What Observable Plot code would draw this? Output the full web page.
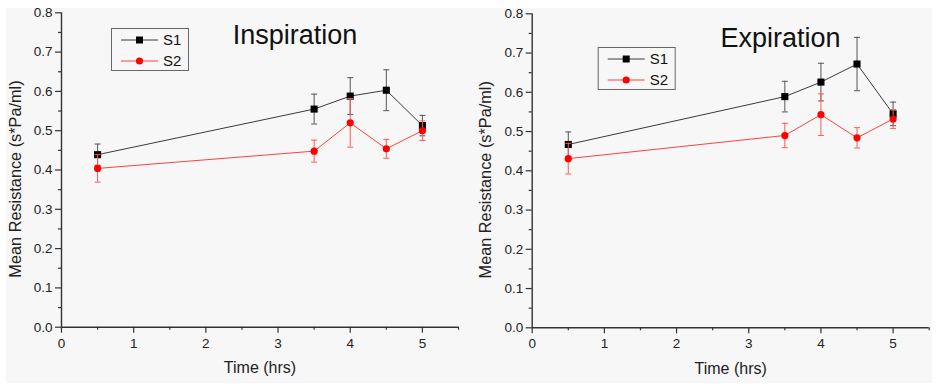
<!DOCTYPE html>
<html>
<head>
<meta charset="utf-8">
<script src="https://cdn.jsdelivr.net/npm/d3@7"></script>
<script src="https://cdn.jsdelivr.net/npm/@observablehq/plot@0.6"></script>
<style>
  html, body { margin: 0; padding: 0; background: #ffffff; }
  #wrap { position: absolute; left: 6px; top: 8px; width: 926px; height: 375px; background: #f7f7f7; overflow: hidden; }
  #wrap svg.plot { position: absolute; top: 0; }
  #overlay { position: absolute; left: 0; top: 0; }
</style>
</head>
<body>
<div id="wrap"></div>
<script>
// ---- data ----
const times = [0.5, 3.5, 4, 4.5, 5];
const seriesNames = ["S1", "S2"];
const panelTitles = ["Inspiration", "Expiration"];
const xLabel = "Time (hrs)";
const yLabel = "Mean Resistance (s*Pa/ml)";

const inspS1    = [0.439, 0.555, 0.588, 0.603, 0.513];
const inspS1Err = [0.027, 0.038, 0.047, 0.052, 0.026];
const inspS2    = [0.404, 0.448, 0.520, 0.454, 0.500];
const inspS2Err = [0.035, 0.028, 0.062, 0.024, 0.025];

const expS1     = [0.467, 0.589, 0.626, 0.672, 0.545];
const expS1Err  = [0.032, 0.039, 0.048, 0.068, 0.030];
const expS2     = [0.431, 0.490, 0.543, 0.484, 0.532];
const expS2Err  = [0.039, 0.031, 0.053, 0.026, 0.024];

const xMajor = [0, 1, 2, 3, 4, 5];
const xMinor = [0.5, 1.5, 2.5, 3.5, 4.5, 5.5];
const yMajor = [0, 0.1, 0.2, 0.3, 0.4, 0.5, 0.6, 0.7, 0.8];
const yMinor = [0.05, 0.15, 0.25, 0.35, 0.45, 0.55, 0.65, 0.75];

const FONT = "'Liberation Sans', Arial, Helvetica, sans-serif";
const AX = "#333";
const S1C = "#000000", S1L = "#3a3a3a", S1E = "#555555";
const S2C = "#ff0000", S2L = "#ff4040", S2E = "#ff5a5a";

const cap = { draw(ctx, size) { const w = Math.sqrt(size / Math.PI); ctx.moveTo(-w, 0); ctx.lineTo(w, 0); } };

function rows(v, e) { return times.map((t, i) => ({ t, v: v[i], lo: v[i] - e[i], hi: v[i] + e[i] })); }

function panel(s1, s1e, s2, s2e, m) {
  const r1 = rows(s1, s1e), r2 = rows(s2, s2e);
  const seriesMarks = (r, lineC, errC, fill, sym, rad) => [
    Plot.ruleX(r, { x: "t", y1: "lo", y2: "hi", stroke: errC, strokeWidth: 1 }),
    Plot.dot(r, { x: "t", y: "hi", symbol: cap, r: 3, stroke: errC, strokeWidth: 1 }),
    Plot.dot(r, { x: "t", y: "lo", symbol: cap, r: 3, stroke: errC, strokeWidth: 1 }),
    Plot.line(r, { x: "t", y: "v", stroke: lineC, strokeWidth: 1 }),
    Plot.dot(r, { x: "t", y: "v", symbol: sym, r: rad, fill, stroke: "none" })
  ];
  const svg = Plot.plot({
    width: m.width, height: 375,
    marginLeft: m.left, marginRight: m.right, marginTop: m.top, marginBottom: m.bottom,
    style: { background: "transparent", fontFamily: FONT, color: "#222", overflow: "hidden" },
    x: { domain: [0, 5.5] },
    y: { domain: [0, 0.8] },
    marks: [
      Plot.axisY({ ticks: yMinor, tickSize: 3, tickFormat: () => "", label: null, stroke: AX, strokeWidth: 1.2 }),
      Plot.axisY({ ticks: yMajor, tickSize: 6, tickPadding: 3, tickFormat: d3.format(".1f"), label: null, fontSize: 13.5, stroke: AX, strokeWidth: 1.2, fill: "#222" }),
      Plot.axisX({ ticks: xMinor, tickSize: 3, tickFormat: () => "", label: null, stroke: AX, strokeWidth: 1.2 }),
      Plot.axisX({ ticks: xMajor, tickSize: 6, tickPadding: 5, tickFormat: d3.format("d"), label: null, fontSize: 13.5, stroke: AX, strokeWidth: 1.2, fill: "#222" }),
      Plot.ruleX([0], { stroke: AX, strokeWidth: 1.4 }),
      Plot.ruleY([0], { stroke: AX, strokeWidth: 1.4 }),
      Plot.text([yLabel], { frameAnchor: "left", rotate: -90, dx: -46, dy: 9, textAnchor: "middle", fontSize: 16.3, fill: "#222" }),
      Plot.text([xLabel], { frameAnchor: "bottom", dy: 46, textAnchor: "middle", fontSize: 16, fill: "#222" }),
      ...seriesMarks(r1, S1L, S1E, S1C, "square", 4),
      ...seriesMarks(r2, S2L, S2E, S2C, "circle", 3.6)
    ]
  });
  svg.classList.add("plot");
  svg.style.left = m.offset + "px";
  return svg;
}

const wrap = document.getElementById("wrap");
wrap.appendChild(panel(inspS1, inspS1Err, inspS2, inspS2Err, { offset: 0, width: 462, left: 55, right: 10, top: 4.3, bottom: 56.3 }));
wrap.appendChild(panel(expS1, expS1Err, expS2, expS2Err, { offset: 462, width: 464, left: 63.7, right: 3.3, top: 5.3, bottom: 55.7 }));

// ---- titles and legends overlay ----
const ov = d3.select(wrap).append("svg").attr("id", "overlay").attr("width", 926).attr("height", 375)
  .style("font-family", FONT);

function titleAndLegend(title, tx, ty, lx, ly) {
  ov.append("text").attr("x", tx).attr("y", ty).attr("text-anchor", "middle")
    .attr("font-size", 27).attr("fill", "#111").text(title);
  const g = ov.append("g").attr("transform", `translate(${lx},${ly})`);
  g.append("rect").attr("x", 0.5).attr("y", 0.5).attr("width", 77).attr("height", 42)
    .attr("fill", "none").attr("stroke", "#666").attr("stroke-width", 1);
  const items = [
    { name: seriesNames[0], line: S1L, fill: S1C, sym: "square", cy: 12 },
    { name: seriesNames[1], line: S2L, fill: S2C, sym: "circle", cy: 33 }
  ];
  for (const it of items) {
    g.append("line").attr("x1", 10).attr("x2", 47).attr("y1", it.cy).attr("y2", it.cy)
      .attr("stroke", it.line).attr("stroke-width", 1);
    if (it.sym === "square") g.append("rect").attr("x", 28.5 - 3.5).attr("y", it.cy - 3.5).attr("width", 7).attr("height", 7).attr("fill", it.fill);
    else g.append("circle").attr("cx", 28.5).attr("cy", it.cy).attr("r", 3.6).attr("fill", it.fill);
    g.append("text").attr("x", 52).attr("y", it.cy).attr("dy", "0.36em").attr("font-size", 15).attr("fill", "#111").text(it.name);
  }
}
titleAndLegend(panelTitles[0], 289, 36, 105, 20);
titleAndLegend(panelTitles[1], 774.5, 38.7, 591.7, 39);
</script>
</body>
</html>
